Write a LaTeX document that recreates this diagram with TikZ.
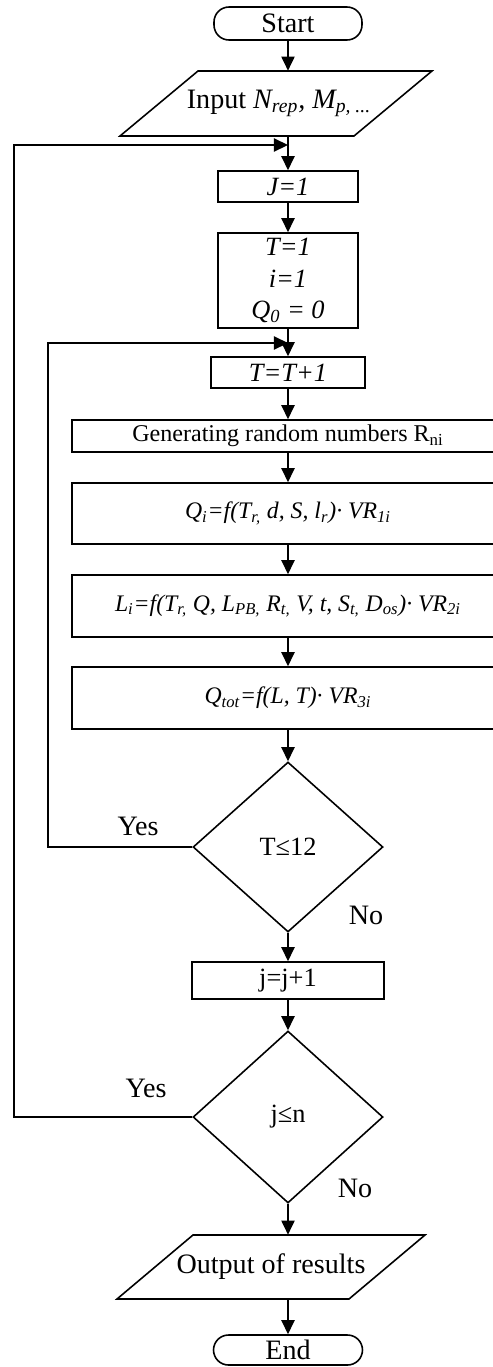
\documentclass[tikz,border=0pt]{standalone}
\usepackage{fontspec}
\setmainfont{Liberation Serif}
\usetikzlibrary{arrows.meta,shapes.geometric}
\newcommand{\sbs}[1]{\textsubscript{#1}}
\begin{document}
\begin{tikzpicture}[x=0.02cm,y=-0.02cm,
  every node/.style={font=\fontsize{15}{18}\selectfont},
  big/.style={font=\fontsize{16}{19}\selectfont},
  formula/.style={font=\fontsize{13.5}{16}\selectfont},
  box/.style={draw,line width=0.9pt,rectangle,inner sep=0pt,align=center},
  term/.style={draw,line width=0.9pt,rectangle,rounded corners=0.3cm,inner sep=0pt,big},
  dec/.style={draw,line width=0.9pt,diamond,inner sep=0pt,minimum width=3.8cm},
  lbl/.style={inner sep=0pt},
  arr/.style={line width=0.9pt,-{Triangle[length=8pt,width=7.5pt]}},
  para/.style={draw,line width=0.9pt}
]
\useasboundingbox (0,0) rectangle (493,1367);
\clip (0,0) rectangle (493,1367);
\fill[white] (0,0) rectangle (493,1367);

% nodes
\node[term,minimum width=2.96cm,minimum height=0.66cm] (start) at (288,23.5) {Start};
\draw[para] (198,71) -- (432,71) -- (354,136) -- (120,136) -- cycle;
\node[lbl,big,minimum height=1.3cm] (input) at (279,103.5) {Input \textit{N\sbs{rep},\ M\sbs{p, ...}}};
\coordinate (m1) at (288,145);
\node[box,minimum width=2.8cm,minimum height=0.62cm] (j1) at (288,186.5) {\textit{J=1}};
\node[box,minimum width=2.8cm,minimum height=1.9cm] (t1) at (288,280.5) {\textit{T=1}\\ \textit{i=1}\\ \textit{Q\sbs{0} = 0}};
\coordinate (m2) at (288,343);
\node[box,minimum width=3.08cm,minimum height=0.62cm] (tt) at (288,372.5) {\textit{T=T+1}};
\node[box,minimum width=8.64cm,minimum height=0.64cm,font=\fontsize{13.7}{16}\selectfont] (gen) at (288,436) {Generating random numbers R\sbs{ni}};
\node[box,formula,minimum width=8.64cm,minimum height=1.22cm] (qi) at (288,513.5) {\textit{Q\sbs{i}=f(T\sbs{r,} d, S, l\sbs{r})· VR\sbs{1i}}};
\node[box,formula,minimum width=8.64cm,minimum height=1.24cm] (li) at (288,606) {\textit{L\sbs{i}=f(T\sbs{r,} Q, L\sbs{PB,} R\sbs{t,} V, t, S\sbs{t,} D\sbs{os})· VR\sbs{2i}}};
\node[box,formula,minimum width=8.64cm,minimum height=1.24cm] (qt) at (288,698) {\textit{Q\sbs{tot}=f(L, T)· VR\sbs{3i}}};
\node[dec,minimum height=3.4cm] (dt) at (288,847) {T≤12};
\node[box,minimum width=3.84cm,minimum height=0.74cm] (jj) at (288,980.5) {j=j+1};
\node[dec,minimum height=3.44cm] (dj) at (288,1117) {j≤n};
\draw[para] (193,1235) -- (425,1235) -- (349,1299) -- (117,1299) -- cycle;
\node[lbl,big,minimum height=1.28cm] (out) at (271,1267) {Output of results};
\node[term,minimum width=2.98cm,minimum height=0.6cm] (stop) at (288,1350) {End};

% labels
\node[lbl,big] (yes1) at (138,826) {Yes};
\node[lbl,big] (no1) at (366,915) {No};
\node[lbl,big] (yes2) at (146,1088) {Yes};
\node[lbl,big] (no2) at (355,1188) {No};

% connectors
\draw[arr] (start) -- (start.south |- input.north);
\draw[arr] (j1.north |- input.south) -- (j1.north);
\draw[arr] (j1) -- (t1);
\draw[arr] (t1) -- (tt);
\draw[arr] (tt) -- (gen);
\draw[arr] (gen) -- (qi);
\draw[arr] (qi) -- (li);
\draw[arr] (li) -- (qt);
\draw[arr] (qt) -- (dt);
\draw[arr] (dt) -- (jj);
\draw[arr] (jj) -- (dj);
\draw[arr] (dj.south) -- (dj.south |- out.north);
\draw[arr] (stop.north |- out.south) -- (stop.north);
\draw[arr] (dt.west) -- (48,847) |- (m2);
\draw[arr] (dj.west) -- (14,1117) |- (m1);
\end{tikzpicture}
\end{document}
